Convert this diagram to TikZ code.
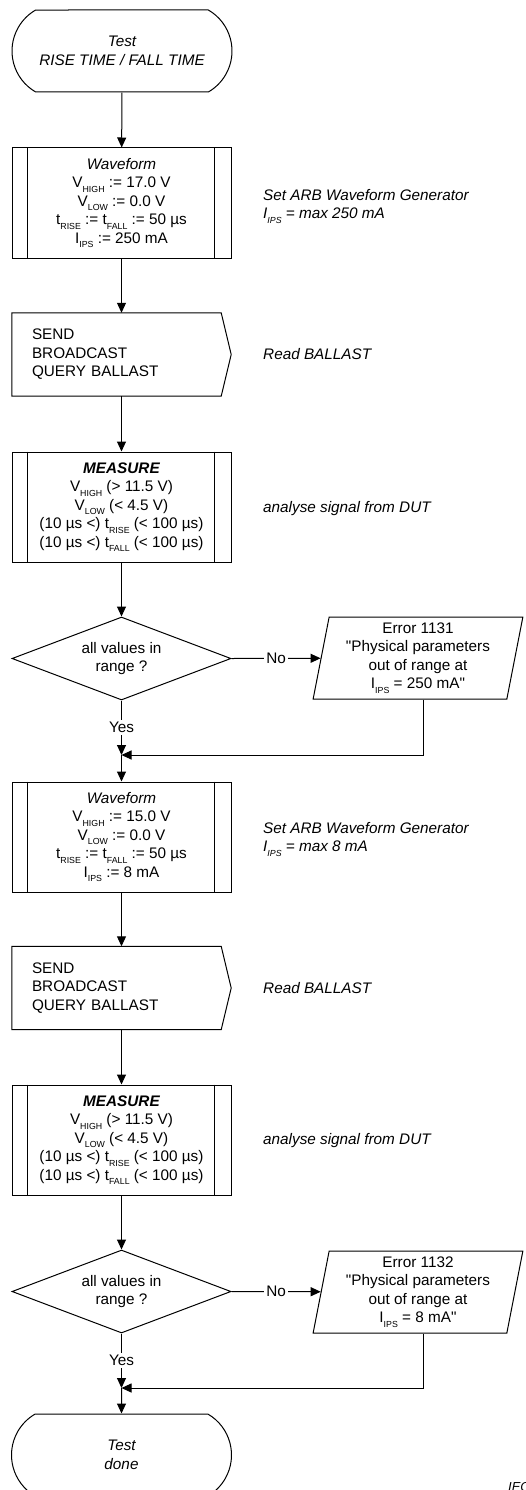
\documentclass[tikz,border=0pt]{standalone}
\usepackage{fontspec}
\setmainfont{Liberation Sans}
\usetikzlibrary{shapes.geometric,shapes.misc,arrows.meta,calc}
\newcommand{\sbs}[1]{\raisebox{-4.5pt}{\fontsize{8.8pt}{9pt}\selectfont #1}}
\tikzset{
  txt/.style={font=\fontsize{15.3pt}{18.5pt}\selectfont},
  base/.style={txt, draw, line width=1pt, inner sep=0pt},
  term/.style={base, rounded rectangle, rounded rectangle arc length=120, minimum width=220pt, minimum height=82pt, align=center},
  proc/.style={base, rectangle, minimum width=219pt, minimum height=110pt, align=center},
  sendbox/.style={txt, rectangle, minimum width=219pt, minimum height=83pt, text width=179pt, inner xsep=20pt, inner ysep=0pt, align=left},
  dec/.style={base, diamond, aspect=2.64, minimum width=219pt, minimum height=83pt, align=center},
  err/.style={base, trapezium, trapezium left angle=79.6, trapezium right angle=100.4, trapezium stretches=true, minimum width=210pt, minimum height=82pt, align=center},
  note/.style={txt, anchor=west, align=left, inner sep=0pt, font=\fontsize{15.3pt}{18.5pt}\selectfont\itshape},
  arr/.style={line width=1pt, -{Triangle[length=10pt,width=9pt]}},
  ln/.style={line width=1pt},
  lbl/.style={txt, fill=white, inner sep=2pt},
}
\begin{document}
\begin{tikzpicture}[x=1pt,y=-1pt]
\useasboundingbox (0,0) rectangle (525,1490);
% first block
\node[term] (t1) at (122,51) {\itshape Test\\ \itshape RISE TIME / FALL TIME};
\node[proc] (b1) at (121.5,203) {{\itshape Waveform}\\ V\sbs{HIGH} := 17.0 V\\ V\sbs{LOW} := 0.0 V\\ t\sbs{RISE} := t\sbs{FALL} := 50 µs\\ I\sbs{IPS} := 250 mA};
\draw[ln] ([xshift=16pt]b1.north west) -- ([xshift=16pt]b1.south west);
\draw[ln] ([xshift=-17pt]b1.north east) -- ([xshift=-17pt]b1.south east);
\node[note] (c1) at (263,206) {Set ARB Waveform Generator\\ I\sbs{IPS} = max 250 mA};
\node[sendbox] (s1) at (121.5,354.5) {SEND\\ BROADCAST\\ QUERY BALLAST};
\draw[ln] (s1.north west) -- ([xshift=-10pt]s1.north east) -- (s1.east) -- ([xshift=-10pt]s1.south east) -- (s1.south west) -- cycle;
\node[note] (r1) at (263,354) {Read BALLAST};
\node[proc] (m1) at (121.5,507) {{\bfseries\itshape MEASURE}\\ V\sbs{HIGH} (> 11.5 V)\\ V\sbs{LOW} (< 4.5 V)\\ (10 µs <) t\sbs{RISE} (< 100 µs)\\ (10 µs <) t\sbs{FALL} (< 100 µs)};
\draw[ln] ([xshift=16pt]m1.north west) -- ([xshift=16pt]m1.south west);
\draw[ln] ([xshift=-17pt]m1.north east) -- ([xshift=-17pt]m1.south east);
\node[note] (a1) at (263,509) {analyse signal from DUT};
\node[dec] (d1) at (121.5,658.5) {all values in\\ range ?};
\node[err] (e1) at (418,658) {Error 1131\\ \textquotedbl Physical parameters\\ out of range at\\ I\sbs{IPS} = 250 mA\textquotedbl};
\coordinate (j1) at (121.5,755);
% second block
\node[proc] (b2) at (121.5,837) {{\itshape Waveform}\\ V\sbs{HIGH} := 15.0 V\\ V\sbs{LOW} := 0.0 V\\ t\sbs{RISE} := t\sbs{FALL} := 50 µs\\ I\sbs{IPS} := 8 mA};
\draw[ln] ([xshift=16pt]b2.north west) -- ([xshift=16pt]b2.south west);
\draw[ln] ([xshift=-17pt]b2.north east) -- ([xshift=-17pt]b2.south east);
\node[note] (c2) at (263,839) {Set ARB Waveform Generator\\ I\sbs{IPS} = max 8 mA};
\node[sendbox] (s2) at (121.5,988) {SEND\\ BROADCAST\\ QUERY BALLAST};
\draw[ln] (s2.north west) -- ([xshift=-10pt]s2.north east) -- (s2.east) -- ([xshift=-10pt]s2.south east) -- (s2.south west) -- cycle;
\node[note] (r2) at (263,988) {Read BALLAST};
\node[proc] (m2) at (121.5,1140) {{\bfseries\itshape MEASURE}\\ V\sbs{HIGH} (> 11.5 V)\\ V\sbs{LOW} (< 4.5 V)\\ (10 µs <) t\sbs{RISE} (< 100 µs)\\ (10 µs <) t\sbs{FALL} (< 100 µs)};
\draw[ln] ([xshift=16pt]m2.north west) -- ([xshift=16pt]m2.south west);
\draw[ln] ([xshift=-17pt]m2.north east) -- ([xshift=-17pt]m2.south east);
\node[note] (a2) at (263,1141) {analyse signal from DUT};
\node[dec] (d2) at (121.5,1291.5) {all values in\\ range ?};
\node[err] (e2) at (418,1292) {Error 1132\\ \textquotedbl Physical parameters\\ out of range at\\ I\sbs{IPS} = 8 mA\textquotedbl};
\coordinate (j2) at (121.5,1388);
\node[term] (t2) at (121.5,1455) {\itshape Test\\ \itshape done};
\node[anchor=north west, inner sep=0pt, font=\fontsize{13pt}{13pt}\selectfont\itshape] (ie) at (508,1482) {IEC};
% connectors
\draw[arr] (t1) -- (b1);
\draw[arr] (b1) -- (s1.north -| b1);
\draw[arr] (s1.south -| m1) -- (m1);
\draw[arr] (m1) -- (d1);
\draw[arr] (d1.east) -- node[lbl] {No} (e1);
\draw[arr] (d1.south) -- node[lbl] {Yes} (j1);
\draw[arr] ([xshift=5pt]e1.south) |- (j1);
\draw[arr] (j1) -- (b2);
\draw[arr] (b2) -- (s2.north -| b2);
\draw[arr] (s2.south -| m2) -- (m2);
\draw[arr] (m2) -- (d2);
\draw[arr] (d2.east) -- node[lbl] {No} (e2);
\draw[arr] (d2.south) -- node[lbl] {Yes} (j2);
\draw[arr] ([xshift=5pt]e2.south) |- (j2);
\draw[arr] (j2) -- (t2);
\end{tikzpicture}
\end{document}
